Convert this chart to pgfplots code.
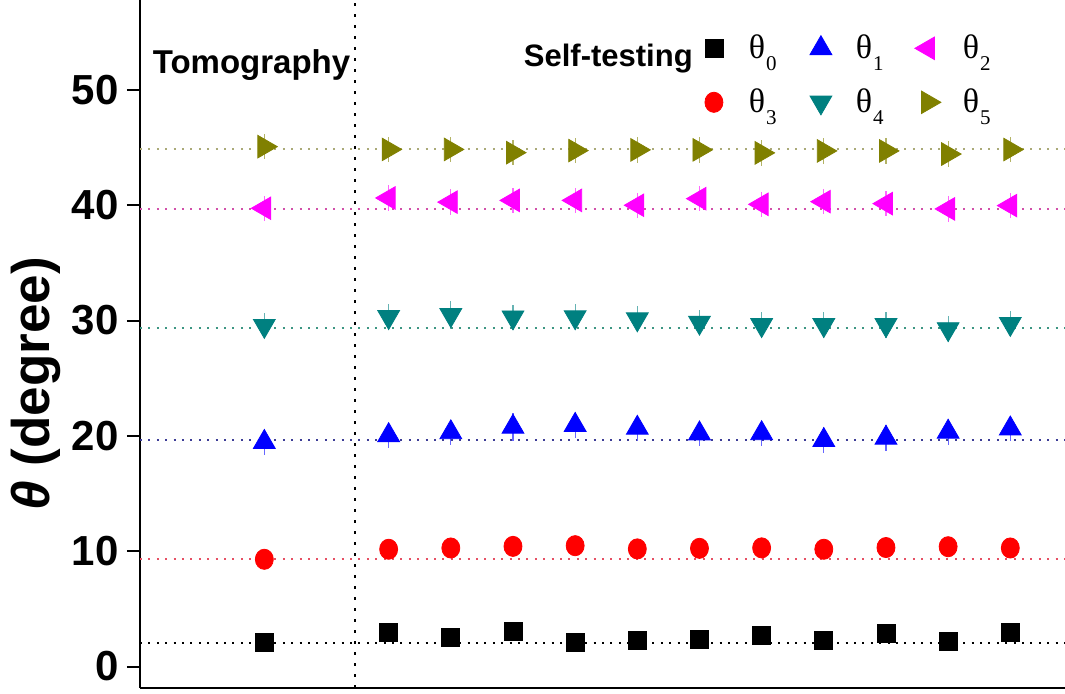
\documentclass[border=0pt]{standalone}
\usepackage{fontspec}
\setmainfont{Liberation Sans}
\newfontfamily\serif{Liberation Serif}
\usepackage{pgfplots}
\usepackage{pgfplotstable}
\pgfplotsset{compat=1.18}

\definecolor{cblack}{RGB}{0,0,0}
\definecolor{cblue}{RGB}{0,0,255}
\definecolor{cmag}{RGB}{255,0,255}
\definecolor{cred}{RGB}{255,0,0}
\definecolor{cteal}{RGB}{0,128,128}
\definecolor{colive}{RGB}{128,128,0}
\definecolor{lred}{RGB}{230,80,100}
\definecolor{lblue}{RGB}{60,60,150}
\definecolor{lteal}{RGB}{60,150,130}
\definecolor{lmag}{RGB}{210,80,170}
\definecolor{lolive}{RGB}{170,170,120}

\pgfplotstableread{
x y e
0 2.12 0
2 2.98 0
3 2.49 0
4 3.06 0
5 2.12 0
6 2.25 0
7 2.34 0
8 2.69 0
9 2.23 0
10 2.88 0
11 2.20 0
12 2.92 0
}\tzero
\pgfplotstableread{
x y e
0 19.46 1.1
2 20.05 1.1
3 20.30 1.1
4 20.78 1.2
5 20.94 1.1
6 20.69 1.1
7 20.20 1.1
8 20.22 1.1
9 19.63 1.1
10 19.83 1.1
11 20.35 1.1
12 20.63 1.1
}\tone
\pgfplotstableread{
x y e
0 39.74 1.1
2 40.63 1.1
3 40.27 1.1
4 40.42 1.1
5 40.42 1.1
6 40.00 1.1
7 40.57 1.1
8 40.08 1.1
9 40.31 1.1
10 40.14 1.1
11 39.68 1.1
12 39.97 1.1
}\ttwo
\pgfplotstableread{
x y e
0 9.30 0
2 10.17 0
3 10.28 0
4 10.42 0
5 10.48 0
6 10.20 0
7 10.25 0
8 10.29 0
9 10.17 0
10 10.32 0
11 10.39 0
12 10.28 0
}\tthree
\pgfplotstableread{
x y e
0 29.55 1.1
2 30.32 1.1
3 30.49 1.2
4 30.29 1.1
5 30.30 1.1
6 30.12 1.1
7 29.83 1.1
8 29.62 1.1
9 29.62 1.1
10 29.62 1.1
11 29.27 1.1
12 29.72 1.1
}\tfour
\pgfplotstableread{
x y e
0 45.08 1.1
2 44.84 1.1
3 44.84 1.1
4 44.56 1.1
5 44.74 1.1
6 44.80 1.1
7 44.80 1.1
8 44.54 1.1
9 44.71 1.1
10 44.71 1.1
11 44.44 1.1
12 44.83 1.1
}\tfive

\newcommand{\thlab}[1]{\makebox[22.5pt][l]{θ\hspace{0.5pt}\raisebox{-6pt}{\fontsize{10.5}{10.5}\selectfont #1}}}

\begin{document}
\begin{tikzpicture}
\useasboundingbox (-70pt,-3pt) rectangle (462.5pt,344pt);
\begin{axis}[
  at={(0,0)}, anchor=south west,
  scale only axis, width=462.5pt, height=344pt,
  xmin=-2, xmax=12.88, ymin=-1.86, ymax=57.8,
  axis x line*=bottom, axis y line*=left,
  axis line style={line width=1pt, -},
  xtick=\empty,
  ytick={0,10,20,30,40,50},
  minor tick num=0,
  tick align=outside,
  major tick length=6.5pt,
  every tick/.style={line width=1pt, black},
  /pgf/number format/assume math mode=true,
  yticklabel style={font=\fontsize{21}{25}\selectfont\bfseries, inner sep=4pt},
  ylabel={\textit{θ} (degree)},
  every axis y label/.style={at={(axis description cs:-0.113,0.442)}, rotate=90, anchor=center, font=\fontsize{26.5}{30}\selectfont\bfseries},
  clip=false,
  legend columns=3,
  legend style={draw=none, fill=none, inner sep=0pt, outer sep=0pt,
    at={(axis description cs:0.601,0.953)}, anchor=north west,
    font=\serif\fontsize{17}{20}\selectfont,
    nodes={inner sep=0pt},
    row sep=11pt,
    /tikz/every odd column/.append style={column sep=8.5pt},
    /tikz/every even column/.append style={column sep=4.5pt}},
  legend image code/.code={\path[draw=none,fill=none] (-9pt,-8pt) rectangle (9pt,8pt);
    \draw[mark repeat=2,mark phase=2,#1] plot coordinates {(-1pt,0pt)(0pt,0pt)(1pt,0pt)};},
  error bars/y dir=both, error bars/y explicit, error bars/error mark=none,
]
% reference lines
\addplot[forget plot, black, line width=1pt, dash pattern=on 1pt off 3.2pt] coordinates {(-2,2.06) (12.88,2.06)};
\addplot[forget plot, lred, line width=1pt, dash pattern=on 1pt off 3.2pt] coordinates {(-2,9.30) (12.88,9.30)};
\addplot[forget plot, lblue, line width=1pt, dash pattern=on 1pt off 3.2pt] coordinates {(-2,19.62) (12.88,19.62)};
\addplot[forget plot, lteal, line width=1pt, dash pattern=on 1pt off 3.2pt] coordinates {(-2,29.33) (12.88,29.33)};
\addplot[forget plot, lmag, line width=1pt, dash pattern=on 1pt off 3.2pt] coordinates {(-2,39.70) (12.88,39.70)};
\addplot[forget plot, lolive, line width=1pt, dash pattern=on 1pt off 3.2pt] coordinates {(-2,44.90) (12.88,44.90)};
\addplot[forget plot, black, line width=1pt, dash pattern=on 1.5pt off 4pt] coordinates {(1.46,-1.86) (1.46,57.8)};

\addplot[only marks, mark=square*, mark size=4.5pt, color=cblack,
  error bars/error bar style={draw=none}] table[x=x,y=y,y error=e] {\tzero};
\addlegendentry{\thlab{0}}
\addplot[only marks, mark=triangle*, mark size=6.3pt, color=cblue,
  error bars/error bar style={line width=0.6pt, color=cblue!60!white}] table[x=x,y=y,y error=e] {\tone};
\addlegendentry{\thlab{1}}
\addplot[only marks, mark=triangle*, mark size=6.5pt, mark options={rotate=90}, color=cmag,
  error bars/error bar style={line width=0.6pt, color=cmag!60!white}] table[x=x,y=y,y error=e] {\ttwo};
\addlegendentry{\thlab{2}}
\addplot[only marks, mark=*, mark size=4.5pt, mark options={yscale=1.12}, color=cred,
  error bars/error bar style={draw=none}] table[x=x,y=y,y error=e] {\tthree};
\addlegendentry{\thlab{3}}
\addplot[only marks, mark=triangle*, mark size=6.3pt, mark options={rotate=180}, color=cteal,
  error bars/error bar style={line width=0.6pt, color=cteal!60!white}] table[x=x,y=y,y error=e] {\tfour};
\addlegendentry{\thlab{4}}
\addplot[only marks, mark=triangle*, mark size=6.5pt, mark options={rotate=-90}, color=colive,
  error bars/error bar style={line width=0.6pt, color=colive!60!white}] table[x=x,y=y,y error=e] {\tfive};
\addlegendentry{\thlab{5}}

\node[anchor=base west, font=\fontsize{16.5}{20}\selectfont\bfseries, inner sep=0pt] at (axis cs:-1.80,51.45) {Tomography};
\node[anchor=base west, font=\fontsize{15.5}{19}\selectfont\bfseries, inner sep=0pt] at (axis cs:4.17,52.02) {Self-testing};
\end{axis}
\end{tikzpicture}
\end{document}
